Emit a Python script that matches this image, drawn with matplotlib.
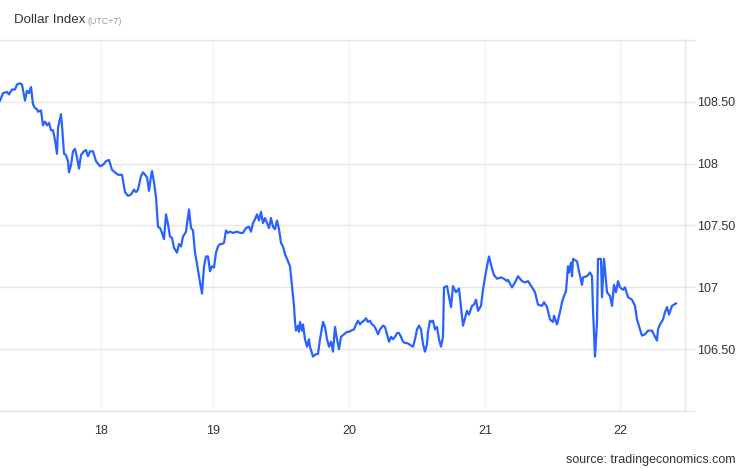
import matplotlib
matplotlib.use("Agg")
import matplotlib.pyplot as plt

plt.rcParams['font.family'] = ['Liberation Sans', 'DejaVu Sans']

# time position (chart time index) and Dollar Index value
t = [0, 3, 7, 9, 12, 15, 17, 20, 22, 25, 27, 29, 31, 33, 35, 37, 38, 41, 43, 45,
     47, 49, 51, 53, 55, 57, 58, 61, 62, 64, 66, 68, 69, 71, 73, 75, 77, 79, 81, 84,
     86, 88, 90, 93, 96, 100, 103, 106, 109, 112, 115, 118, 122, 125, 128, 131, 134, 136, 138, 141,
     143, 147, 149, 151, 152, 154, 156, 158, 160, 162, 164, 166, 168, 170, 172, 174, 177, 179, 181, 183,
     186, 189, 191, 193, 195, 197, 200, 202, 204, 206, 208, 210, 212, 214, 216, 218, 220, 222, 224, 226,
     228, 230, 233, 237, 240, 243, 246, 249, 251, 253, 255, 257, 259, 261, 263, 265, 267, 269, 271, 273,
     275, 277, 279, 281, 283, 285, 287, 290, 292, 294, 295, 296, 298, 299, 300, 302, 303, 305, 307, 309,
     310, 313, 316, 318, 320, 323, 325, 327, 329, 331, 333, 335, 337, 339, 341, 344, 347, 349, 351, 354,
     356, 358, 360, 362, 364, 366, 368, 370, 372, 374, 376, 378, 380, 383, 385, 387, 389, 391, 393, 395,
     397, 399, 401, 403, 405, 407, 409, 411, 413, 415, 417, 419, 421, 423, 425, 427, 428, 430, 432, 433,
     435, 437, 439, 441, 443, 444, 447, 451, 453, 456, 459, 462, 463, 467, 469, 472, 474, 476, 478, 481,
     483, 485, 487, 489, 492, 494, 497, 501, 504, 507, 508, 512, 515, 518, 522, 525, 528, 532, 535, 538,
     542, 544, 547, 550, 553, 554, 557, 560, 562, 564, 566, 568, 569, 571, 572, 573, 577, 579, 582, 583,
     587, 590, 592, 593, 595, 597, 598, 601, 602, 604, 607, 610, 612, 614, 616, 618, 620, 623, 625, 628,
     632, 635, 637, 640, 642, 645, 648, 652, 655, 657, 658, 660, 663, 665, 667, 669, 672, 674, 676]

value = [108.51, 108.57, 108.58, 108.56, 108.60, 108.60, 108.64, 108.65, 108.64, 108.51,
         108.59, 108.57, 108.62, 108.48, 108.45, 108.44, 108.42, 108.43, 108.31, 108.34,
         108.31, 108.33, 108.27, 108.27, 108.19, 108.08, 108.29, 108.40, 108.31, 108.08,
         108.07, 108.02, 107.93, 107.99, 108.10, 108.12, 108.05, 107.96, 108.07, 108.10,
         108.11, 108.06, 108.10, 108.10, 108.02, 107.98, 107.99, 108.02, 108.03, 107.95,
         107.93, 107.91, 107.91, 107.77, 107.74, 107.75, 107.79, 107.77, 107.79, 107.90,
         107.93, 107.89, 107.78, 107.90, 107.94, 107.85, 107.73, 107.49, 107.48, 107.44,
         107.39, 107.59, 107.51, 107.41, 107.40, 107.32, 107.28, 107.35, 107.33, 107.41,
         107.45, 107.63, 107.48, 107.46, 107.28, 107.19, 107.04, 106.95, 107.17, 107.25,
         107.25, 107.13, 107.17, 107.16, 107.28, 107.33, 107.35, 107.35, 107.36, 107.46,
         107.44, 107.45, 107.44, 107.45, 107.44, 107.44, 107.48, 107.49, 107.45, 107.52,
         107.55, 107.59, 107.54, 107.61, 107.52, 107.56, 107.52, 107.48, 107.56, 107.49,
         107.47, 107.54, 107.47, 107.36, 107.33, 107.27, 107.23, 107.17, 107.01, 106.85,
         106.72, 106.65, 106.69, 106.64, 106.72, 106.65, 106.70, 106.58, 106.52, 106.58,
         106.52, 106.44, 106.46, 106.46, 106.58, 106.72, 106.68, 106.58, 106.52, 106.56,
         106.48, 106.68, 106.58, 106.50, 106.60, 106.62, 106.64, 106.64, 106.65, 106.66,
         106.70, 106.73, 106.70, 106.72, 106.73, 106.75, 106.72, 106.73, 106.70, 106.69,
         106.66, 106.62, 106.66, 106.69, 106.68, 106.62, 106.56, 106.60, 106.58, 106.60,
         106.63, 106.63, 106.60, 106.56, 106.55, 106.55, 106.54, 106.53, 106.52, 106.58,
         106.66, 106.69, 106.66, 106.54, 106.48, 106.54, 106.64, 106.73, 106.72, 106.73,
         106.66, 106.68, 106.58, 106.52, 106.60, 107.00, 107.01, 106.84, 107.01, 106.96,
         106.99, 106.76, 106.69, 106.81, 106.78, 106.85, 106.86, 106.90, 106.81, 106.85,
         106.98, 107.08, 107.17, 107.25, 107.15, 107.10, 107.07, 107.08, 107.07, 107.05,
         107.06, 107.00, 107.04, 107.09, 107.05, 107.04, 107.05, 107.00, 106.96, 106.86,
         106.85, 106.88, 106.84, 106.74, 106.72, 106.77, 106.70, 106.80, 106.88, 106.93,
         106.97, 107.17, 107.12, 107.20, 107.09, 107.23, 107.21, 107.13, 107.02, 107.08,
         107.09, 107.12, 107.09, 106.82, 106.44, 106.72, 107.23, 107.23, 106.92, 107.23,
         106.96, 106.93, 106.85, 107.02, 106.96, 107.05, 107.00, 106.98, 107.00, 106.92,
         106.90, 106.85, 106.74, 106.66, 106.61, 106.62, 106.65, 106.65, 106.60, 106.57,
         106.66, 106.70, 106.74, 106.80, 106.84, 106.78, 106.85, 106.86, 106.87]

day_pos = [101, 213, 349, 485, 620]
day_labels = ["18", "19", "20", "21", "22"]
y_ticks = [106.0, 106.5, 107.0, 107.5, 108.0, 108.5, 109.0]
y_labels = ["", "106.50", "107", "107.50", "108", "108.50", ""]

fig = plt.figure(figsize=(7.46, 4.68), dpi=100)
ax = fig.add_axes([0, 57 / 468, 685 / 746, 371 / 468])

ax.plot(t, value, color="#2962ff", linewidth=1.6, solid_joinstyle="round", zorder=3)

ax.set_xlim(0, 685)
ax.set_ylim(106.0, 109.0)

ax.yaxis.tick_right()
ax.set_yticks(y_ticks)
ax.set_yticklabels(y_labels)
ax.set_xticks(day_pos)
ax.set_xticklabels(day_labels)

ax.grid(axis="y", color="#e6e6e6", linewidth=1)
ax.grid(axis="x", color="#eff2f7", linewidth=1)
ax.tick_params(axis="y", length=7, width=1, color="#e6e6e6", labelcolor="#333333",
               labelsize=9, pad=1.5)
ax.tick_params(axis="x", length=0, labelcolor="#333333", labelsize=9, pad=10)

ax.spines["left"].set_visible(False)
for side in ["top", "bottom", "right"]:
    ax.spines[side].set_color("#e6e6e6")
    ax.spines[side].set_linewidth(1)

fig.text(14 / 746, 1 - 20 / 468, "Dollar Index", fontsize=9.6, color="#333333", va="center")
fig.text(87 / 746, 1 - 21 / 468, "(UTC+7)", fontsize=6.4, color="#999999", va="center")
fig.text(736 / 746, 1 - 460 / 468, "source: tradingeconomics.com", fontsize=9,
         color="#333333", ha="right", va="center")

fig.savefig("out.png", dpi=100)
